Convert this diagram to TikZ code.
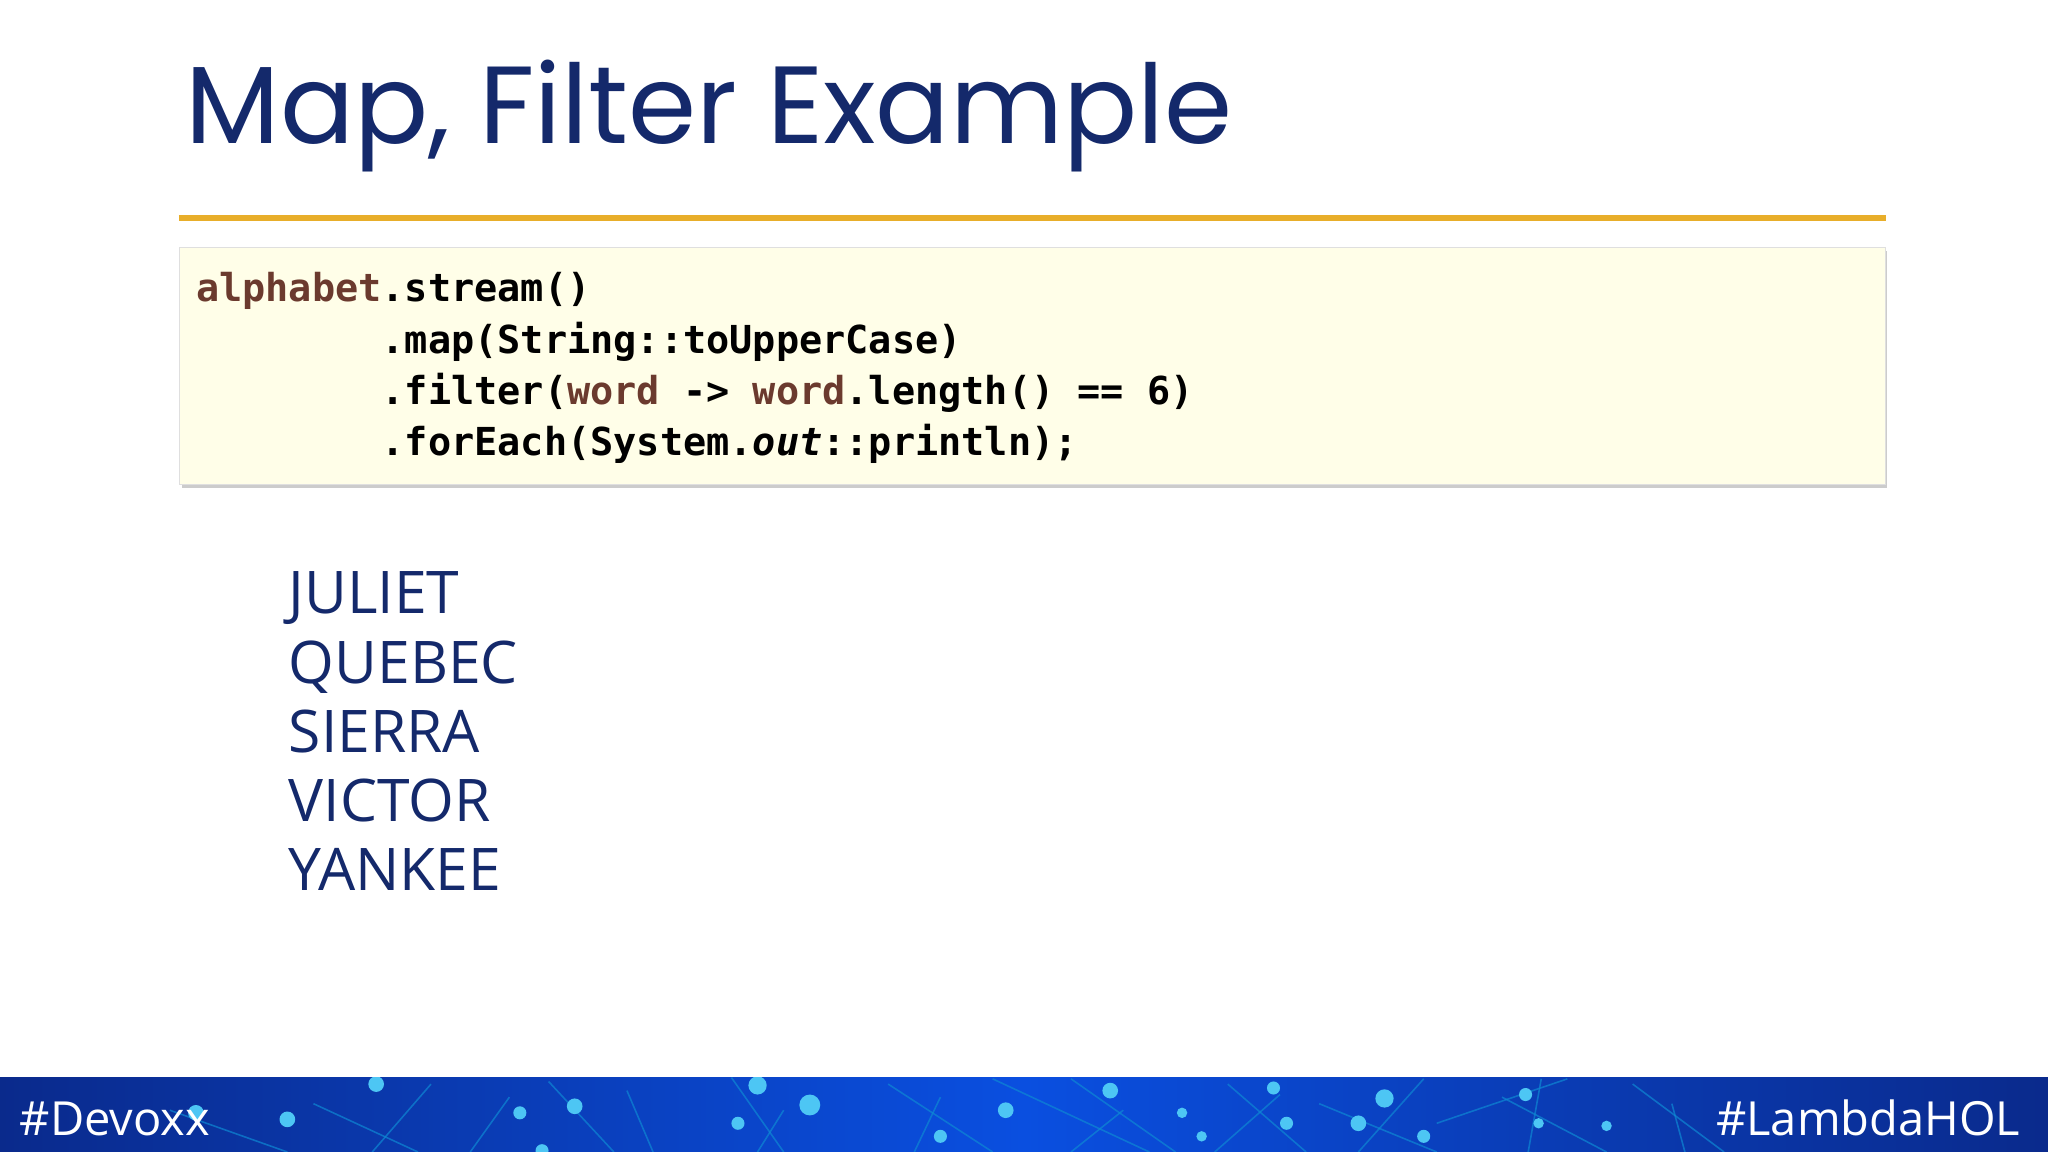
\documentclass[tikz,border=0pt]{standalone}
\usepackage{fontspec}
\setmainfont{Open Sans}
\newfontfamily\titlefont{Poppins}
\setmonofont{DejaVu Sans Mono}
\begin{document}
\begin{tikzpicture}[x=1pt,y=-1pt,
  word/.style={anchor=base west,inner sep=0,text=navy,font=\fontsize{45}{50}\selectfont},
  code/.style={anchor=base west,inner sep=0,font=\ttfamily\bfseries\fontsize{29.5}{34}\selectfont},
  glow/.style={fill=cyan!70!white},
  wire/.style={draw=cyan!70!blue,line width=1.2pt,opacity=0.7}]
\definecolor{navy}{HTML}{14296B}
\definecolor{gold}{HTML}{E8AE2A}
\definecolor{codebg}{HTML}{FFFEE8}
\definecolor{brownc}{HTML}{6B3A2E}
\definecolor{banddark}{HTML}{0A2A8C}
\definecolor{bandmid}{HTML}{0A4FE0}
\useasboundingbox (0,0) rectangle (1568,882);
\fill[white] (0,0) rectangle (1568,882);
% title
\node[anchor=base west,inner sep=0,text=navy,font=\titlefont\fontsize{84}{90}\selectfont] (title) at (142,110) {Map, Filter Example};
\draw[gold,line width=5pt] (137,167) -- (1444,167);
% code box
\fill[gray!40] (139,192) rectangle (1445,374);
\draw[fill=codebg,draw=gray!25] (137,189) rectangle (1443,371);
\node[code] (l1) at (150,231) {\textcolor{brownc}{alphabet}.stream()};
\node[code] (l2) at (150,271) {\phantom{xxxxxxxx}.map(String::toUpperCase)};
\node[code] (l3) at (150,310) {\phantom{xxxxxxxx}.filter(\textcolor{brownc}{word} -> \textcolor{brownc}{word}.length() == 6)};
\node[code] (l4) at (150,349) {\phantom{xxxxxxxx}.forEach(System.\textit{out}::println);};
% output
\node[word] (w1) at (221,470) {JULIET};
\node[word] (w2) at (221,523) {QUEBEC};
\node[word] (w3) at (221,576) {SIERRA};
\node[word] (w4) at (221,629) {VICTOR};
\node[word] (w5) at (221,682) {YANKEE};
% band
\shade[left color=banddark,right color=banddark,middle color=bandmid] (0,825) rectangle (1568,882);
\begin{scope}
\clip (0,825) rectangle (1568,882);
\foreach \a/\b/\c/\d in {130/850/220/882, 240/845/320/882, 330/830/285/882, 390/840/360/882, 420/828/470/882, 480/835/500/882, 560/825/600/882, 600/850/580/882, 680/830/760/882, 720/840/700/882, 820/826/900/882, 860/850/820/882, 940/830/1000/882, 980/838/930/882, 1010/845/1100/882, 1090/826/1040/882, 1150/840/1230/882, 1180/826/1170/882, 1250/830/1320/882, 1280/845/1290/882, 760/826/880/882, 1100/860/1200/826}
  \draw[wire] (\a,\b) -- (\c,\d);
\foreach \p/\r in {{(150,852)/6}, {(220,857)/6}, {(288,830)/6}, {(398,852)/5}, {(415,881)/5}, {(440,847)/6}, {(565,860)/5}, {(580,831)/7}, {(620,846)/8}, {(720,870)/5}, {(770,850)/6}, {(850,835)/6}, {(905,852)/4}, {(920,870)/4}, {(975,833)/5}, {(985,860)/5}, {(1040,860)/6}, {(1060,841)/7}, {(1090,870)/5}, {(1168,838)/5}, {(1178,860)/4}, {(1230,862)/4}}
  \fill[glow] \p circle (\r);
\end{scope}
\node[anchor=base west,inner sep=0,text=white,font=\fontsize{36}{40}\selectfont] (dev) at (15,869) {\#Devoxx};
\node[anchor=base east,inner sep=0,text=white,font=\fontsize{36}{40}\selectfont] (lam) at (1547,869) {\#LambdaHOL};
\end{tikzpicture}
\end{document}
